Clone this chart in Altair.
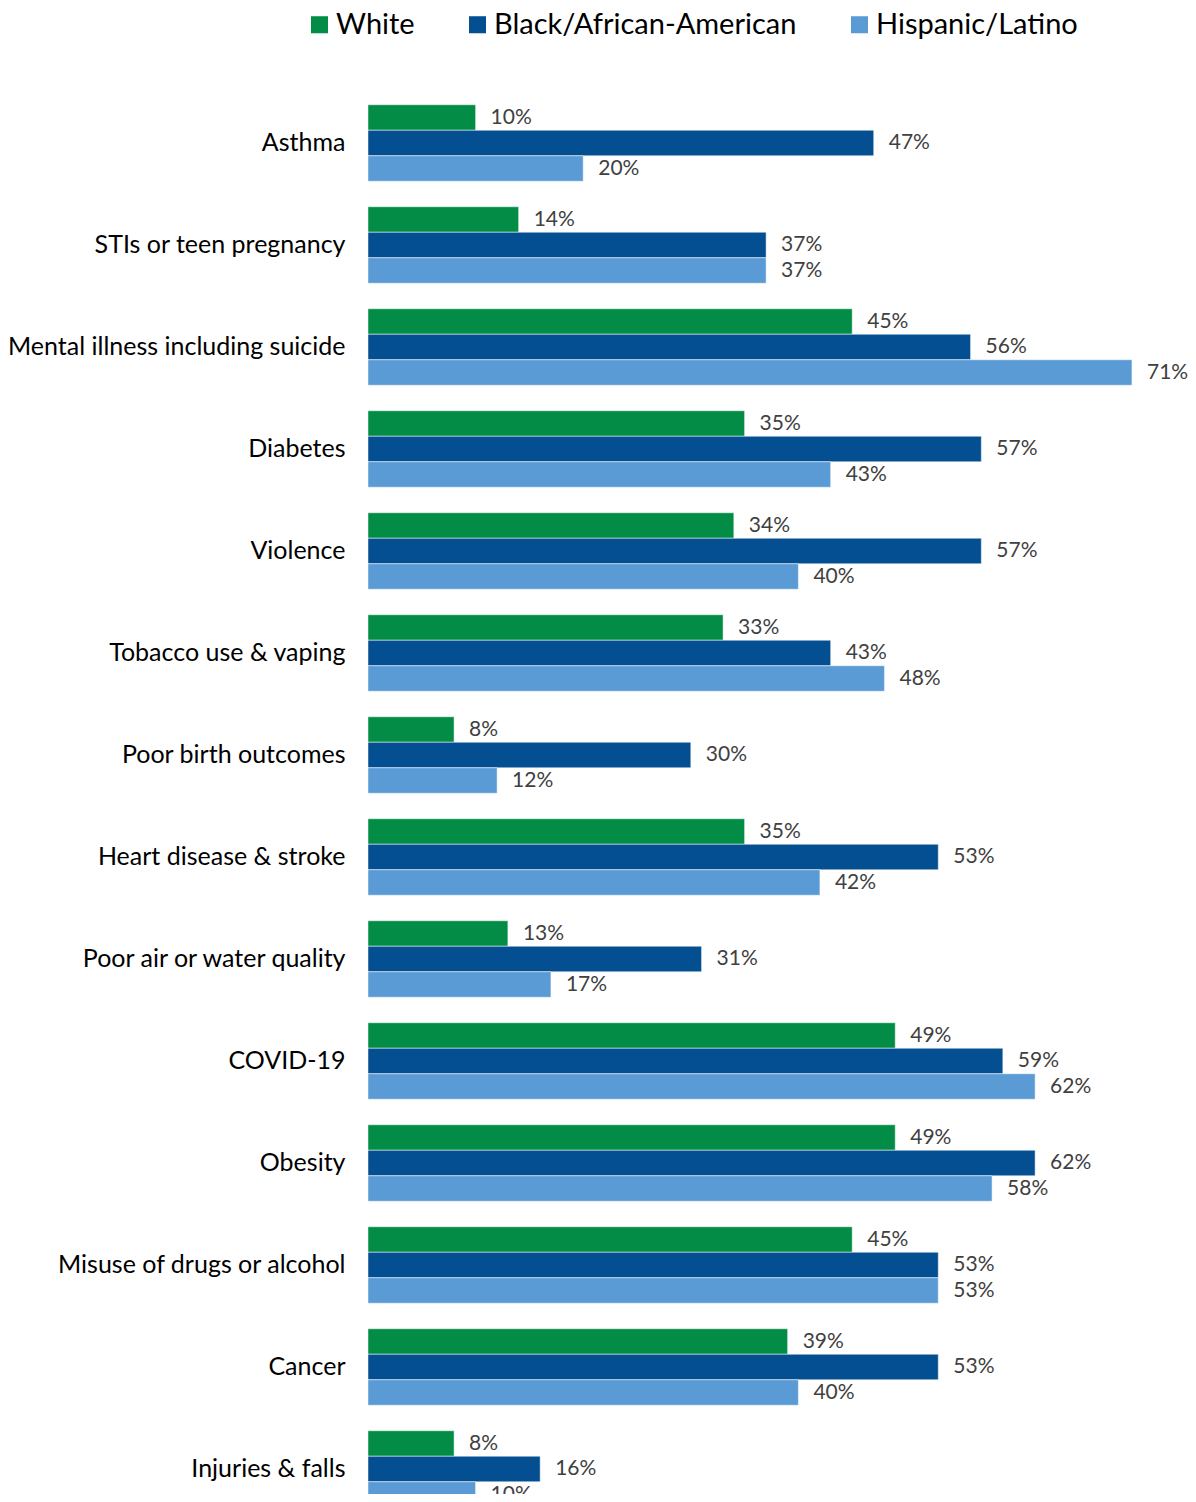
import altair as alt
import pandas as pd

categories = ["Asthma", "STIs or teen pregnancy", "Mental illness including suicide",
              "Diabetes", "Violence", "Tobacco use & vaping", "Poor birth outcomes",
              "Heart disease & stroke", "Poor air or water quality", "COVID-19",
              "Obesity", "Misuse of drugs or alcohol", "Cancer", "Injuries & falls"]
series = ["White", "Black/African-American", "Hispanic/Latino"]
white = [10, 14, 45, 35, 34, 33, 8, 35, 13, 49, 49, 45, 39, 8]
black = [47, 37, 56, 57, 57, 43, 30, 53, 31, 59, 62, 53, 53, 16]
hispanic = [20, 37, 71, 43, 40, 48, 12, 42, 17, 62, 58, 53, 40, 10]
colors = ["#038C45", "#034F91", "#5B9BD5"]

rows = []
for i, c in enumerate(categories):
    for s, vals in zip(series, [white, black, hispanic]):
        rows.append({"category": c, "series": s, "value": vals[i],
                     "label": f"{vals[i]}%"})
df = pd.DataFrame(rows)

base = alt.Chart(df).encode(
    y=alt.Y("category:N", sort=categories,
            scale=alt.Scale(paddingInner=0.25, paddingOuter=0.125, range=[0, 1428]),
            axis=alt.Axis(title=None, domain=False, ticks=False, labelPadding=23,
                          labelFontSize=25, labelColor="#000000", labelFont="Lato",
                          labelLimit=400)),
    yOffset=alt.YOffset("series:N", sort=series, scale=alt.Scale(paddingInner=0, paddingOuter=0)),
    x=alt.X("value:Q", scale=alt.Scale(domain=[0, 75]), axis=None),
)

bars = base.mark_bar(stroke="#ffffff", strokeWidth=0.8, strokeOpacity=0.6).encode(
    color=alt.Color("series:N", sort=series,
                    scale=alt.Scale(domain=series, range=colors),
                    legend=alt.Legend(title=None, orient="none", direction="horizontal",
                                      legendX=-63, legendY=-82, symbolType="square",
                                      symbolSize=290, symbolStrokeWidth=0,
                                      labelFontSize=29, labelFont="Lato",
                                      labelColor="#000000", columnPadding=48,
                                      labelOffset=2, labelLimit=400))
)

texts = base.mark_text(align="left", baseline="middle", dx=15, fontSize=21,
                       font="Lato", color="#404040").encode(text="label:N")

chart = alt.layer(bars, texts).properties(
    width=807, height=1402,
    autosize=alt.AutoSizeParams(type="none"),
    padding={"left": 360, "top": 84, "right": 13, "bottom": 0},
).configure_view(stroke=None)

chart.save("out.html", embed_options={"renderer": "svg", "actions": False})
